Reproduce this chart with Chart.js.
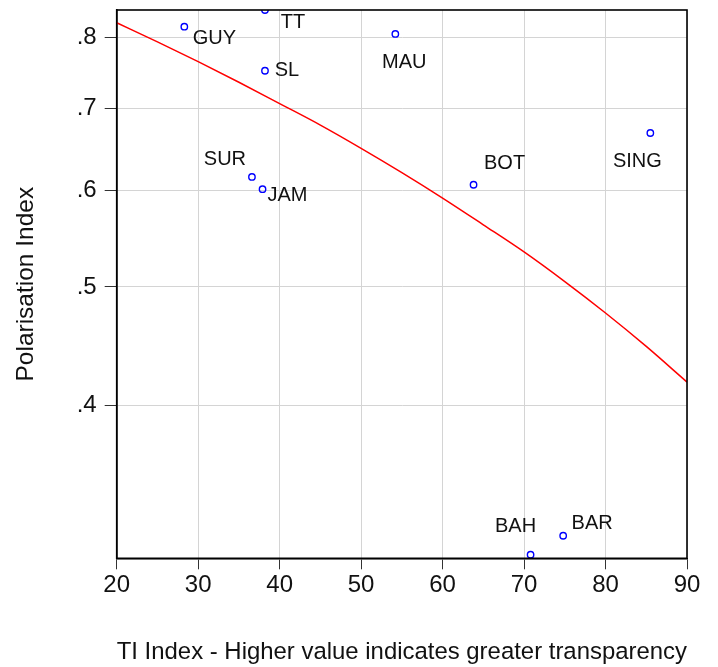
<!DOCTYPE html>
<html>
<head>
<meta charset="utf-8">
<script src="https://cdn.jsdelivr.net/npm/chart.js@4.4.1/dist/chart.umd.min.js"></script>
<style>
  html, body { margin: 0; padding: 0; background: #fff; }
  #wrap { width: 718px; height: 667px; }
</style>
</head>
<body>
<div id="wrap"><canvas id="chart" width="718" height="667"></canvas></div>
<script>
// ─── DATA ───
const countries    = ['GUY', 'TT', 'SL', 'SUR', 'JAM', 'MAU', 'BOT', 'SING', 'BAH', 'BAR'];
const tiIndex      = [28.3, 38.2, 38.2, 36.6, 37.9, 54.2, 63.8, 85.5, 70.8, 74.8];
const polarisation = [0.816, 0.842, 0.751, 0.615, 0.601, 0.805, 0.606, 0.668, 0.302, 0.313];

// fitted line
const fitX = [20, 25, 30, 35, 40, 45, 50, 55, 60, 65, 70, 75, 80, 85, 90];
const fitY = [0.822, 0.793, 0.764, 0.735, 0.706, 0.678, 0.649, 0.620, 0.591, 0.562, 0.534, 0.505, 0.476, 0.447, 0.418];

const yTicks = [0.4, 0.5, 0.6, 0.7, 0.8];

// label placement relative to its point (px)
const labelOffsets = {
  GUY: [30, 12], TT: [28, 12], SL: [22, 0], SUR: [-27, -17], JAM: [25, 6],
  MAU: [9, 29], BOT: [31, -21], SING: [-13, 28], BAH: [-15, -28], BAR: [29, -12],
};

const FONT = 'Liberation Sans, Arial, Helvetica, sans-serif';

// ── point labels ──
const pointLabels = {
  id: 'pointLabels',
  afterDatasetsDraw(chart) {
    const meta = chart.getDatasetMeta(1);
    const ctx = chart.ctx;
    ctx.save();
    ctx.font = '20px ' + FONT;
    ctx.fillStyle = '#111';
    ctx.textAlign = 'center';
    ctx.textBaseline = 'middle';
    meta.data.forEach((el, i) => {
      const off = labelOffsets[countries[i]];
      ctx.fillText(countries[i], el.x + off[0], el.y + off[1]);
    });
    ctx.restore();
  },
};

// ── frame round the plot ──
const frame = {
  id: 'frame',
  afterDraw(chart) {
    const a = chart.chartArea, ctx = chart.ctx;
    ctx.save();
    ctx.strokeStyle = '#000';
    ctx.lineWidth = 1.6;
    ctx.strokeRect(a.left, a.top, a.right - a.left, a.bottom - a.top);
    ctx.restore();
  },
};

new Chart(document.getElementById('chart'), {
  type: 'scatter',
  data: {
    datasets: [
      {
        type: 'line',
        data: fitX.map((x, i) => ({ x, y: fitY[i] })),
        borderColor: '#ff0000', borderWidth: 1.5,
        pointRadius: 0, fill: false, cubicInterpolationMode: 'monotone',
      },
      {
        data: tiIndex.map((x, i) => ({ x, y: polarisation[i] })),
        borderColor: '#0000ff', backgroundColor: 'rgba(0,0,0,0)',
        pointRadius: 3.2, borderWidth: 1.4, clip: 0,
      },
    ],
  },
  options: {
    responsive: false, animation: false,
    layout: { padding: { top: 10, right: 31, left: 0, bottom: 0 } },
    plugins: { legend: { display: false }, tooltip: { enabled: false } },
    scales: {
      x: {
        type: 'linear', min: 20, max: 90,
        afterFit: s => { s.height = 108.7; s.paddingLeft = 0; s.paddingRight = 0; },
        grid: { color: '#d4d4d4', lineWidth: 1, tickLength: 11, tickColor: '#333' },
        border: { color: '#000', width: 1.6 },
        ticks: { stepSize: 10, color: '#111', padding: 2, font: { family: FONT, size: 24 } },
        title: {
          display: true, text: 'TI Index - Higher value indicates greater transparency',
          color: '#111', font: { family: FONT, size: 24.5 }, padding: { top: 3, bottom: 0 },
        },
      },
      y: {
        type: 'logarithmic', min: 0.3, max: 0.842,
        afterFit: s => { s.width = 116.7; s.paddingTop = 0; s.paddingBottom = 0; },
        afterBuildTicks: s => { s.ticks = yTicks.map(v => ({ value: v })); },
        grid: { color: '#d4d4d4', lineWidth: 1, tickLength: 12, tickColor: '#333' },
        border: { color: '#000', width: 1.6 },
        ticks: {
          color: '#111', padding: 8, font: { family: FONT, size: 24 },
          callback: v => v.toFixed(1).replace('0.', '.'),
        },
        title: {
          display: true, text: 'Polarisation Index',
          color: '#111', font: { family: FONT, size: 24.5 }, padding: { top: 12, bottom: 0 },
        },
      },
    },
  },
  plugins: [pointLabels, frame],
});
</script>
</body>
</html>
